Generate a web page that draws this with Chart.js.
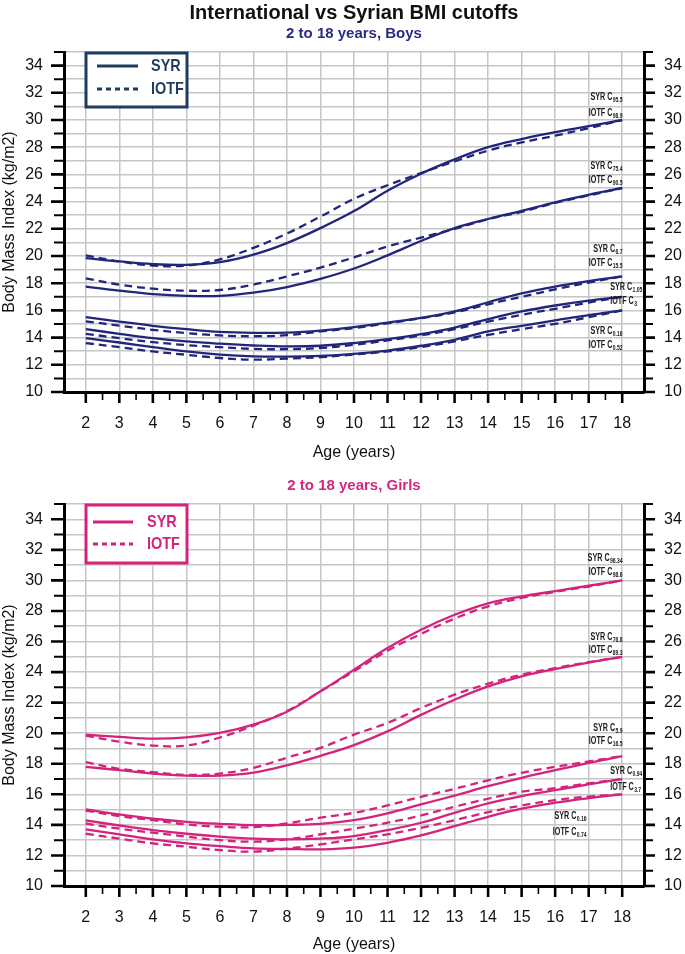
<!DOCTYPE html>
<html>
<head>
<meta charset="utf-8">
<script src="https://cdn.jsdelivr.net/npm/chart.js@4.4.1/dist/chart.umd.min.js"></script>
<style>
  html, body { margin: 0; padding: 0; background: #ffffff; }
  body { width: 685px; height: 954px; position: relative; overflow: hidden; }
  canvas { position: absolute; left: 0; }
  #boys { top: 0; }
  #girls { top: 470px; }
</style>
</head>
<body>
<canvas id="boys" width="685" height="470"></canvas>
<canvas id="girls" width="685" height="484"></canvas>
<script>
// ---------------- DATA ----------------
const ages = [2,3,4,5,6,7,8,9,10,11,12,13,14,15,16,17,18];

// Boys – Syrian (solid) centile curves
const boysSyr95 = [19.85,19.6,19.4,19.35,19.55,20.1,20.95,22.05,23.3,24.8,26.05,27.1,28.0,28.6,29.1,29.55,30.0];
const boysSyr75 = [17.75,17.45,17.2,17.07,17.07,17.3,17.72,18.32,19.08,20.05,21.1,22.05,22.72,23.32,23.95,24.5,25.0];
const boysSyr6  = [15.5,15.18,14.87,14.62,14.42,14.35,14.37,14.52,14.77,15.1,15.45,15.92,16.6,17.25,17.75,18.15,18.5];
const boysSyr1  = [14.62,14.28,13.96,13.72,13.55,13.42,13.35,13.4,13.6,13.89,14.26,14.74,15.36,15.92,16.36,16.72,17.0];
const boysSyr0  = [13.96,13.64,13.3,12.98,12.75,12.62,12.6,12.66,12.81,13.05,13.4,13.84,14.45,14.87,15.26,15.65,16.0];
// Boys – IOTF (dashed) cut-offs 30, 25, 18.5, 17, 16
const boysIotf30 = [20.05,19.6,19.3,19.3,19.75,20.6,21.65,22.9,24.2,25.2,26.1,26.95,27.75,28.35,28.85,29.4,30.0];
const boysIotf25 = [18.35,17.9,17.6,17.45,17.5,17.9,18.5,19.15,19.9,20.7,21.35,22.0,22.7,23.25,23.9,24.45,25.0];
const boysIotf185 = [15.2,14.88,14.57,14.33,14.16,14.1,14.18,14.45,14.7,15.05,15.42,15.85,16.45,17.0,17.55,18.05,18.5];
const boysIotf17 = [14.28,13.96,13.67,13.45,13.3,13.17,13.15,13.23,13.47,13.79,14.16,14.62,15.18,15.68,16.12,16.58,17.0];
const boysIotf16 = [13.6,13.3,12.98,12.74,12.5,12.38,12.45,12.56,12.76,12.98,13.3,13.72,14.2,14.62,15.01,15.5,16.0];

// Girls – Syrian (solid)
const girlsSyr96 = [19.9,19.76,19.65,19.73,20.02,20.56,21.4,22.74,24.15,25.57,26.77,27.75,28.5,28.95,29.3,29.65,30.0];
const girlsSyr76 = [17.8,17.58,17.36,17.23,17.23,17.42,17.9,18.52,19.22,20.12,21.2,22.19,23.06,23.72,24.2,24.62,25.0];
const girlsSyr5  = [15.01,14.68,14.4,14.2,14.07,13.98,14.0,14.07,14.31,14.75,15.34,15.92,16.53,17.08,17.58,18.05,18.5];
const girlsSyr09 = [14.29,13.96,13.66,13.42,13.23,13.1,13.05,13.1,13.27,13.66,14.14,14.79,15.4,15.88,16.27,16.65,17.0];
const girlsSyr0  = [13.7,13.38,13.05,12.79,12.61,12.46,12.42,12.4,12.51,12.83,13.31,13.92,14.53,15.06,15.45,15.75,16.0];
// Girls – IOTF (dashed)
const girlsIotf30 = [19.84,19.45,19.19,19.19,19.72,20.5,21.45,22.74,24.05,25.4,26.5,27.5,28.3,28.85,29.25,29.6,30.0];
const girlsIotf25 = [18.1,17.67,17.45,17.27,17.36,17.73,18.4,19.04,19.91,20.67,21.65,22.52,23.24,23.83,24.26,24.65,25.0];
const girlsIotf185 = [14.94,14.57,14.31,14.03,13.88,13.85,14.1,14.47,14.79,15.27,15.84,16.36,16.92,17.41,17.8,18.15,18.5];
const girlsIotf17 = [14.09,13.75,13.49,13.23,13.0,12.9,13.05,13.38,13.75,14.14,14.62,15.19,15.71,16.17,16.4,16.72,17.0];
const girlsIotf16 = [13.42,13.1,12.79,12.57,12.35,12.25,12.45,12.72,13.05,13.38,13.81,14.31,14.83,15.27,15.62,15.85,16.0];

// Centile labels at the curve ends
const boysSyrCentiles  = ['95.5','75.4','6.7','1.05','0.16'];
const boysIotfCentiles = ['98.9','90.5','15.5','3','0.52'];
const girlsSyrCentiles  = ['96.34','76.8','5.9','0.94','0.16'];
const girlsIotfCentiles = ['98.6','89.3','16.5','3.7','0.74'];

const yTickValues = [10,12,14,16,18,20,22,24,26,28,30,32,34];
const legendLabels = ['SYR','IOTF'];

// ---------------- HELPERS ----------------
const FONT = "'Liberation Sans', Arial, sans-serif";
const GRID = '#c6c6c6';

function mkSet(vals, color, dashed, label) {
  return {
    label: label,
    data: ages.map((a, i) => ({x: a, y: vals[i]})),
    borderColor: color,
    backgroundColor: color,
    borderWidth: 2.3,
    borderDash: dashed ? [8, 5] : [],
    pointRadius: 0,
    tension: 0.4,
    fill: false
  };
}

function drawCLabel(ctx, x, y, prefix, sub, align) {
  const sx = 0.72;
  ctx.save();
  ctx.fillStyle = '#1a1a1a';
  ctx.textBaseline = 'middle';
  ctx.textAlign = 'left';
  ctx.font = "bold 10px " + FONT;
  const w1 = ctx.measureText(prefix).width;
  ctx.font = "bold 7px " + FONT;
  const w2 = ctx.measureText(sub).width;
  const total = (w1 + w2) * sx;
  const x0 = align === 'right' ? x - total : x;
  ctx.translate(x0, y);
  ctx.scale(sx, 1);
  ctx.font = "bold 10px " + FONT;
  ctx.fillText(prefix, 0, 0);
  ctx.font = "bold 7px " + FONT;
  ctx.fillText(sub, w1 + 0.5, 3);
  ctx.restore();
}

const axisTicksPlugin = {
  id: 'axisTicks',
  afterDraw(chart) {
    const ctx = chart.ctx;
    const {left, right, bottom} = chart.chartArea;
    const ys = chart.scales.y, xs = chart.scales.x;
    ctx.save();
    ctx.strokeStyle = '#000';
    for (let v = 10; v <= 35; v++) {
      const py = ys.getPixelForValue(v);
      const major = v % 2 === 0;
      ctx.lineWidth = major ? 2.6 : 2;
      ctx.beginPath();
      ctx.moveTo(left - (major ? 13 : 10), py);
      ctx.lineTo(left, py);
      ctx.moveTo(right, py);
      ctx.lineTo(right + (major ? 11 : 9), py);
      ctx.stroke();
    }
    for (let v = 2; v <= 18.001; v += 0.5) {
      const px = xs.getPixelForValue(v);
      const major = Math.abs(v - Math.round(v)) < 1e-6;
      ctx.lineWidth = major ? 2.6 : 1.6;
      ctx.beginPath();
      ctx.moveTo(px, bottom);
      ctx.lineTo(px, bottom + (major ? 11 : 8));
      ctx.stroke();
    }
    ctx.restore();
  }
};

const headerPlugin = {
  id: 'header',
  afterDraw(chart, args, opts) {
    const ctx = chart.ctx;
    const cx = (chart.chartArea.left + chart.chartArea.right) / 2;
    ctx.save();
    ctx.textAlign = 'center';
    ctx.textBaseline = 'middle';
    (opts.lines || []).forEach(l => {
      ctx.font = l.font;
      ctx.fillStyle = l.color;
      ctx.fillText(l.text, cx, l.y);
    });
    ctx.restore();
  }
};

const legendBoxPlugin = {
  id: 'legendBox',
  afterDatasetsDraw(chart, args, opts) {
    const ctx = chart.ctx;
    const {x, y, w, h, color, lineColor, rows, lineX0, lineX1, textX} = opts;
    ctx.save();
    ctx.fillStyle = '#ffffff';
    ctx.fillRect(x, y, w, h);
    ctx.strokeStyle = color;
    ctx.lineWidth = 3;
    ctx.strokeRect(x, y, w, h);
    legendLabels.forEach((lab, i) => {
      const ry = rows[i];
      ctx.strokeStyle = lineColor;
      ctx.lineWidth = 3;
      ctx.setLineDash(i === 0 ? [] : [5, 4]);
      ctx.beginPath();
      ctx.moveTo(lineX0, ry);
      ctx.lineTo(lineX1, ry);
      ctx.stroke();
      ctx.setLineDash([]);
      ctx.fillStyle = color;
      ctx.textBaseline = 'middle';
      ctx.textAlign = 'left';
      ctx.save();
      ctx.translate(textX, ry);
      ctx.scale(0.85, 1);
      ctx.font = "bold 17px " + FONT;
      ctx.fillText(lab, 0, 0);
      ctx.restore();
    });
    ctx.restore();
  }
};

const endLabelsPlugin = {
  id: 'endLabels',
  afterDraw(chart, args, opts) {
    const ctx = chart.ctx;
    const xs = chart.scales.x, ys = chart.scales.y;
    const x18 = xs.getPixelForValue(18);
    opts.groups.forEach((g, i) => {
      const anchorY = ys.getPixelForValue(opts.anchors[i][opts.anchors[i].length - 1]);
      const ax = x18 + g.dx;
      drawCLabel(ctx, ax, anchorY + g.dy1, 'SYR C', opts.syr[i], g.align);
      drawCLabel(ctx, ax, anchorY + g.dy2, 'IOTF C', opts.iotf[i], g.align);
    });
  }
};

function makeChart(id, cfg) {
  const tickFont = {family: FONT, size: 16};
  return new Chart(document.getElementById(id), {
    type: 'line',
    data: {datasets: cfg.datasets},
    plugins: [axisTicksPlugin, headerPlugin, legendBoxPlugin, endLabelsPlugin],
    options: {
      responsive: false,
      animation: false,
      devicePixelRatio: 1,
      layout: {padding: {top: cfg.padTop, left: 0, right: 0, bottom: 0}},
      plugins: {
        legend: {display: false},
        tooltip: {enabled: false},
        header: {lines: cfg.header},
        legendBox: cfg.legend,
        endLabels: cfg.endLabels
      },
      scales: {
        x: {
          type: 'linear', min: 1.35, max: 18.65,
          afterBuildTicks: s => { s.ticks = ages.map(v => ({value: v})); },
          afterFit: s => { s.height = cfg.xHeight; },
          grid: {color: GRID, lineWidth: 1.5, drawTicks: false},
          border: {color: '#000', width: 3},
          ticks: {padding: 22, font: tickFont, color: '#111', maxRotation: 0, autoSkip: false, callback: v => v},
          title: {display: true, text: 'Age (years)', font: {family: FONT, size: 16}, color: '#111', padding: {top: 0, bottom: cfg.xTitlePad}}
        },
        y: {
          position: 'left', min: 10, max: 35,
          afterBuildTicks: s => { const t = []; for (let v = 10; v <= 35; v++) t.push({value: v}); s.ticks = t; },
          afterFit: s => { s.width = 64; },
          grid: {color: GRID, lineWidth: 1.5, drawTicks: false},
          border: {color: '#000', width: 3},
          ticks: {padding: 21, font: tickFont, color: '#111', autoSkip: false, callback: v => yTickValues.includes(v) ? v : ''},
          title: {display: true, text: 'Body Mass Index (kg/m2)', font: {family: FONT, size: 16}, color: '#111', padding: {top: 0, bottom: 0}}
        },
        y2: {
          position: 'right', min: 10, max: 35,
          afterBuildTicks: s => { const t = []; for (let v = 10; v <= 35; v++) t.push({value: v}); s.ticks = t; },
          afterFit: s => { s.width = 41; },
          grid: {drawOnChartArea: false, drawTicks: false},
          border: {color: '#000', width: 3},
          ticks: {padding: 20, font: tickFont, color: '#111', autoSkip: false, callback: v => yTickValues.includes(v) ? v : ''}
        }
      }
    }
  });
}

// ---------------- BOYS ----------------
const BOY = '#22267a';
makeChart('boys', {
  padTop: 52, xHeight: 78, xTitlePad: 8,
  header: [
    {text: 'International vs Syrian BMI cutoffs', y: 13, font: 'bold 20px ' + FONT, color: '#111'},
    {text: '2 to 18 years, Boys', y: 34, font: 'bold 15px ' + FONT, color: '#2a2a80'}
  ],
  legend: {x: 86, y: 53, w: 101, h: 54, color: '#1e3d5e', lineColor: '#1e3d5e', rows: [66, 89], lineX0: 97, lineX1: 138, textX: 151},
  endLabels: {
    anchors: [boysIotf30, boysIotf25, boysIotf185, boysIotf17, boysIotf16],
    syr: boysSyrCentiles, iotf: boysIotfCentiles,
    groups: [
      {dx: 0, align: 'right', dy1: -23, dy2: -7},
      {dx: 0, align: 'right', dy1: -22, dy2: -8},
      {dx: 0, align: 'right', dy1: -27, dy2: -13},
      {dx: -12, align: 'left', dy1: -10, dy2: 4},
      {dx: 0, align: 'right', dy1: 21, dy2: 35}
    ]
  },
  datasets: [
    mkSet(boysSyr95, BOY, false, 'SYR C95.5'),
    mkSet(boysSyr75, BOY, false, 'SYR C75.4'),
    mkSet(boysSyr6, BOY, false, 'SYR C6.7'),
    mkSet(boysSyr1, BOY, false, 'SYR C1.05'),
    mkSet(boysSyr0, BOY, false, 'SYR C0.16'),
    mkSet(boysIotf30, BOY, true, 'IOTF 30'),
    mkSet(boysIotf25, BOY, true, 'IOTF 25'),
    mkSet(boysIotf185, BOY, true, 'IOTF 18.5'),
    mkSet(boysIotf17, BOY, true, 'IOTF 17'),
    mkSet(boysIotf16, BOY, true, 'IOTF 16')
  ]
});

// ---------------- GIRLS ----------------
const GIRL = '#d4237c';
makeChart('girls', {
  padTop: 34, xHeight: 68, xTitlePad: 0,
  header: [
    {text: '2 to 18 years, Girls', y: 16, font: 'bold 15px ' + FONT, color: '#d4267f'}
  ],
  legend: {x: 86, y: 35, w: 101, h: 58, color: GIRL, lineColor: GIRL, rows: [52, 74], lineX0: 93, lineX1: 133, textX: 147},
  endLabels: {
    anchors: [girlsIotf30, girlsIotf25, girlsIotf185, girlsIotf17, girlsIotf16],
    syr: girlsSyrCentiles, iotf: girlsIotfCentiles,
    groups: [
      {dx: 0, align: 'right', dy1: -22, dy2: -8},
      {dx: 0, align: 'right', dy1: -20, dy2: -7},
      {dx: 0, align: 'right', dy1: -28, dy2: -15},
      {dx: -12, align: 'left', dy1: -8, dy2: 8},
      {dx: -36, align: 'right', dy1: 22, dy2: 38}
    ]
  },
  datasets: [
    mkSet(girlsSyr96, GIRL, false, 'SYR C96.34'),
    mkSet(girlsSyr76, GIRL, false, 'SYR C76.8'),
    mkSet(girlsSyr5, GIRL, false, 'SYR C5.9'),
    mkSet(girlsSyr09, GIRL, false, 'SYR C0.94'),
    mkSet(girlsSyr0, GIRL, false, 'SYR C0.16'),
    mkSet(girlsIotf30, GIRL, true, 'IOTF 30'),
    mkSet(girlsIotf25, GIRL, true, 'IOTF 25'),
    mkSet(girlsIotf185, GIRL, true, 'IOTF 18.5'),
    mkSet(girlsIotf17, GIRL, true, 'IOTF 17'),
    mkSet(girlsIotf16, GIRL, true, 'IOTF 16')
  ]
});
</script>
</body>
</html>
